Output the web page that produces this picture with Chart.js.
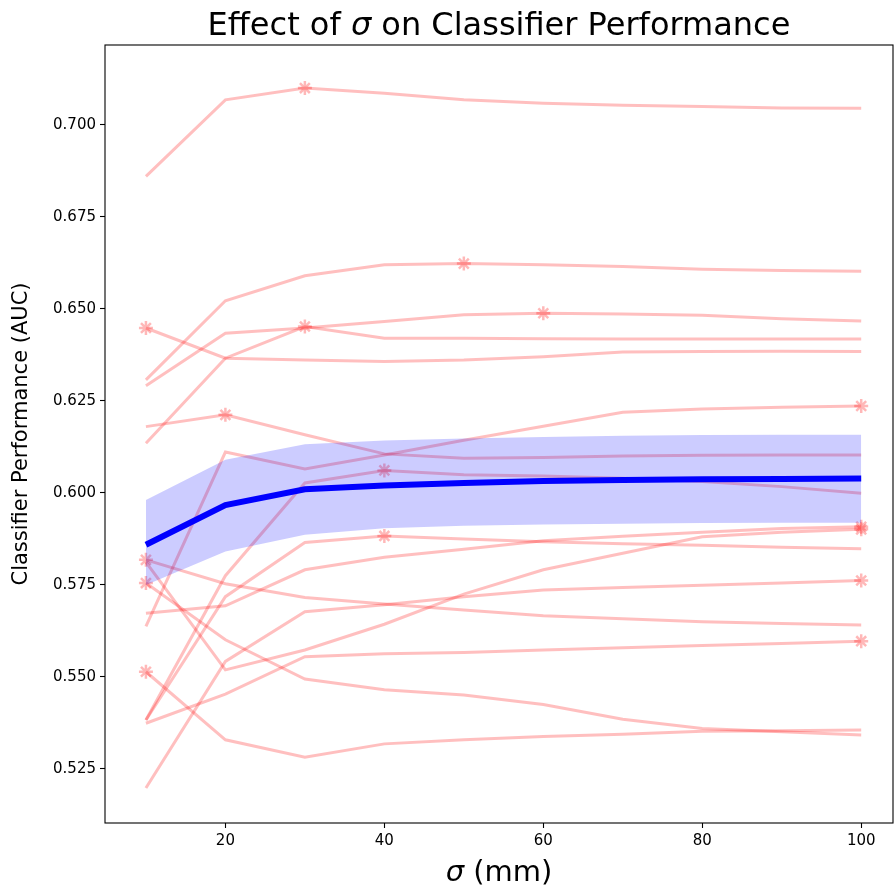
<!DOCTYPE html>
<html>
<head>
<meta charset="utf-8">
<script src="https://cdn.jsdelivr.net/npm/chart.js@4.4.0/dist/chart.umd.min.js"></script>
<style>
  html, body { margin: 0; padding: 0; background: #fff; }
  #wrap { width: 895px; height: 890px; }
</style>
</head>
<body>
<div id="wrap"><canvas id="chartSigma" width="895" height="890"></canvas></div>
<script>
// sigma values (mm)
var sigmaVals = [10, 20, 30, 40, 50, 60, 70, 80, 90, 100];
var xTicks = [20, 40, 60, 80, 100];
var yTicks = [0.525, 0.550, 0.575, 0.600, 0.625, 0.650, 0.675, 0.700];

// one AUC curve per subject
var run01 = [0.6860, 0.7068, 0.7100, 0.7086, 0.7068, 0.7059, 0.7053, 0.7050, 0.7046, 0.7045];
var run02 = [0.6307, 0.6522, 0.6590, 0.6620, 0.6623, 0.6620, 0.6615, 0.6608, 0.6604, 0.6602];
var run03 = [0.6291, 0.6434, 0.6448, 0.6466, 0.6484, 0.6488, 0.6486, 0.6483, 0.6473, 0.6467];
var run04 = [0.6135, 0.6366, 0.6452, 0.6420, 0.6420, 0.6419, 0.6418, 0.6418, 0.6418, 0.6418];
var run05 = [0.6448, 0.6366, 0.6361, 0.6357, 0.6361, 0.6370, 0.6383, 0.6384, 0.6385, 0.6384];
var run06 = [0.6180, 0.6212, 0.6158, 0.6106, 0.6094, 0.6096, 0.6100, 0.6102, 0.6103, 0.6103];
var run07 = [0.5637, 0.6111, 0.6065, 0.6103, 0.6143, 0.6181, 0.6219, 0.6228, 0.6233, 0.6236];
var run08 = [0.5383, 0.5775, 0.6027, 0.6061, 0.6049, 0.6046, 0.6040, 0.6031, 0.6017, 0.5999];
var run09 = [0.5818, 0.5753, 0.5716, 0.5698, 0.5682, 0.5666, 0.5658, 0.5650, 0.5645, 0.5641];
var run10 = [0.5198, 0.5542, 0.5677, 0.5696, 0.5718, 0.5736, 0.5743, 0.5749, 0.5755, 0.5762];
var run11 = [0.5755, 0.5601, 0.5494, 0.5465, 0.5451, 0.5425, 0.5385, 0.5360, 0.5351, 0.5342];
var run12 = [0.5673, 0.5693, 0.5791, 0.5825, 0.5847, 0.5870, 0.5882, 0.5893, 0.5903, 0.5908];
var run13 = [0.5812, 0.5519, 0.5573, 0.5643, 0.5725, 0.5791, 0.5836, 0.5881, 0.5893, 0.5901];
var run14 = [0.5514, 0.5329, 0.5282, 0.5318, 0.5329, 0.5338, 0.5344, 0.5352, 0.5354, 0.5356];
var run15 = [0.5383, 0.5718, 0.5865, 0.5883, 0.5875, 0.5867, 0.5862, 0.5858, 0.5852, 0.5848];
var run16 = [0.5374, 0.5453, 0.5555, 0.5563, 0.5566, 0.5573, 0.5579, 0.5585, 0.5591, 0.5597];

// mean and band
var meanAuc = [0.5859, 0.5967, 0.6010, 0.6020, 0.6027, 0.6032, 0.6035, 0.6037, 0.6038, 0.6039];
var bandHigh = [0.5981, 0.6090, 0.6132, 0.6142, 0.6148, 0.6152, 0.6155, 0.6157, 0.6158, 0.6158];
var bandLow = [0.5750, 0.5841, 0.5886, 0.5904, 0.5911, 0.5914, 0.5916, 0.5918, 0.5919, 0.5919];

var runs = [run01, run02, run03, run04, run05, run06, run07, run08,
            run09, run10, run11, run12, run13, run14, run15, run16];

function toPoints(vals) {
    var pts = [];
    for (var i = 0; i < vals.length; i++) {
        pts.push({ x: sigmaVals[i], y: vals[i] });
    }
    return pts;
}

// star marker at the best sigma of each run
function starRadius(vals) {
    var best = 0;
    for (var i = 1; i < vals.length; i++) {
        if (vals[i] > vals[best]) best = i;
    }
    var r = [];
    for (var j = 0; j < vals.length; j++) r.push(j === best ? 7 : 0);
    return r;
}

var datasets = [
    {
        data: toPoints(meanAuc),
        borderColor: '#0000ff',
        borderWidth: 6,
        pointRadius: 0,
        fill: false,
        order: 0
    },
    {
        data: toPoints(bandLow),
        borderWidth: 0,
        borderColor: 'rgba(0,0,0,0)',
        pointRadius: 0,
        fill: false,
        order: 1
    },
    {
        data: toPoints(bandHigh),
        borderWidth: 0,
        borderColor: 'rgba(0,0,0,0)',
        backgroundColor: 'rgba(0,0,255,0.2)',
        pointRadius: 0,
        fill: '-1',
        order: 1
    }
];

for (var k = 0; k < runs.length; k++) {
    datasets.push({
        data: toPoints(runs[k]),
        borderColor: 'rgba(255,0,0,0.25)',
        borderWidth: 3,
        pointStyle: 'star',
        pointRadius: starRadius(runs[k]),
        pointBorderColor: 'rgba(255,0,0,0.28)',
        pointBorderWidth: 2.5,
        pointBackgroundColor: 'rgba(255,0,0,0.28)',
        fill: false,
        order: 2
    });
}

function drawMixed(ctx, parts, size, cx, y) {
    var total = 0;
    for (var i = 0; i < parts.length; i++) {
        ctx.font = parts[i][1] + size + 'px "DejaVu Sans"';
        total += ctx.measureText(parts[i][0]).width;
    }
    var x = cx - total / 2;
    ctx.textAlign = 'left';
    for (var j = 0; j < parts.length; j++) {
        ctx.font = parts[j][1] + size + 'px "DejaVu Sans"';
        ctx.fillText(parts[j][0], x, y);
        x += ctx.measureText(parts[j][0]).width;
    }
}

var decor = {
    id: 'decor',
    afterDraw: function (chart) {
        var ctx = chart.ctx;
        var a = chart.chartArea;
        ctx.save();
        ctx.strokeStyle = '#000';
        ctx.lineWidth = 1.1;
        ctx.strokeRect(a.left, a.top, a.right - a.left, a.bottom - a.top);
        ctx.fillStyle = '#000';
        ctx.textBaseline = 'alphabetic';
        var cx = (a.left + a.right) / 2;
        drawMixed(ctx, [['Effect of ', ''], ['\u03c3', 'italic '], [' on Classifier Performance', '']], 32, cx, 35);
        drawMixed(ctx, [['\u03c3', 'italic '], [' (mm)', '']], 29, cx, 881);
        ctx.translate(22, (a.top + a.bottom) / 2);
        ctx.rotate(-Math.PI / 2);
        ctx.font = '21px "DejaVu Sans"';
        ctx.textAlign = 'center';
        ctx.textBaseline = 'middle';
        ctx.fillText('Classifier Performance (AUC)', 0, 0);
        ctx.restore();
    }
};

var ctx = document.getElementById('chartSigma').getContext('2d');
var myChart = new Chart(ctx, {
    type: 'line',
    data: { datasets: datasets },
    plugins: [decor],
    options: {
        responsive: false,
        animation: false,
        layout: { autoPadding: false, padding: { top: 45, right: 2, left: 0, bottom: 0 } },
        scales: {
            x: {
                type: 'linear',
                min: 4.85,
                max: 104,
                afterBuildTicks: function (s) { s.ticks = xTicks.map(function (v) { return { value: v }; }); },
                afterFit: function (s) { s.height = 67; s.paddingLeft = 0; s.paddingRight = 0; },
                grid: { drawOnChartArea: false, tickLength: 5, tickColor: '#000', tickWidth: 1.1 },
                border: { display: false },
                ticks: { color: '#000', font: { family: 'DejaVu Sans', size: 15 }, padding: 4, maxRotation: 0 }
            },
            y: {
                min: 0.5103,
                max: 0.7217,
                afterBuildTicks: function (s) { s.ticks = yTicks.map(function (v) { return { value: v }; }); },
                afterFit: function (s) { s.width = 105; s.paddingTop = 0; s.paddingBottom = 0; },
                grid: { drawOnChartArea: false, tickLength: 5, tickColor: '#000', tickWidth: 1.1 },
                border: { display: false },
                ticks: {
                    color: '#000',
                    font: { family: 'DejaVu Sans', size: 15 },
                    padding: 4,
                    callback: function (v) { return Number(v).toFixed(3); }
                }
            }
        },
        plugins: {
            legend: { display: false },
            tooltip: { enabled: false },
            title: { display: false }
        }
    }
});
</script>
</body>
</html>
